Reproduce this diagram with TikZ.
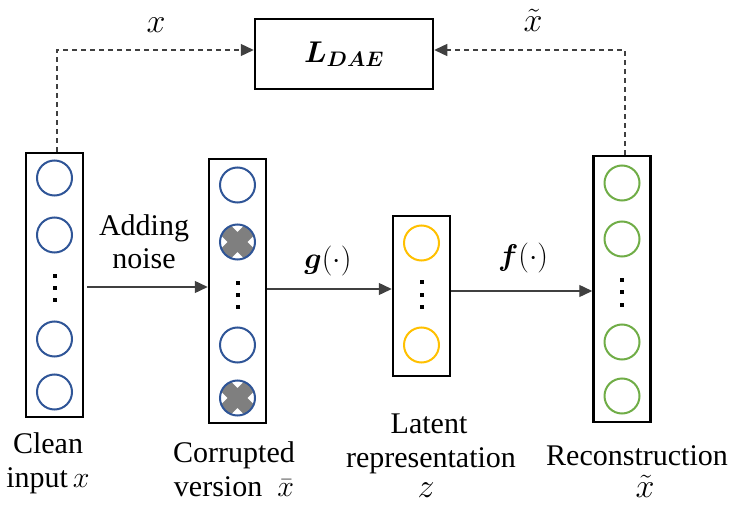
\RequirePackage{fix-cm}
\documentclass[tikz,border=0pt]{standalone}
\usepackage{amsmath}
\usepackage{fontspec}
\setmainfont{Liberation Serif}
\usetikzlibrary{arrows.meta,calc}
\definecolor{nblue}{HTML}{2F5597}
\definecolor{norange}{HTML}{FFC000}
\definecolor{ngreen}{HTML}{70AD47}
\definecolor{ngray}{HTML}{7F7F7F}
\definecolor{lgray}{HTML}{404040}
\begin{document}
\begin{tikzpicture}[x=1pt,y=-1pt,
  every node/.style={font=\fontsize{30}{35}\selectfont},
  box/.style={draw, line width=2.5pt, inner sep=0pt},
  col/.style={box, minimum width=57pt},
  neuron/.style={circle, draw=#1, line width=2pt, minimum size=35pt, inner sep=0pt},
  noisy/.style={neuron=nblue, path picture={
     \draw[ngray, line width=14pt]
       (path picture bounding box.north west) -- (path picture bounding box.south east)
       (path picture bounding box.south west) -- (path picture bounding box.north east);}},
  dotm/.style={fill=black, minimum size=4pt, inner sep=0pt},
  arr/.style={draw=lgray, line width=1.4pt, -{Triangle[length=13pt,width=12pt]}},
  fbline/.style={draw=lgray, line width=1.3pt, dash pattern=on 5pt off 4pt, -{Triangle[length=13pt,width=12pt]}},
  lbl/.style={anchor=base, inner sep=0pt},
  mlbl/.style={lbl, font=\fontsize{34}{38}\selectfont}
]
\useasboundingbox (0,0) rectangle (733,505);

% loss box
\node[box, minimum width=178pt, minimum height=70pt] (L) at (344,54) {$\boldsymbol{L}_{\boldsymbol{DAE}}$};

% columns
\node[col, minimum height=264pt] (c1) at (54.5,285) {};
\node[col, minimum height=264pt] (c2) at (237.5,291) {};
\node[col, minimum height=160pt] (c3) at (421.5,296) {};
\node[col, minimum height=266pt] (c4) at (622,289) {};

% column 1 neurons
\node[neuron=nblue] (a1) at (54.5,178) {};
\node[neuron=nblue] (a2) at (54.5,235) {};
\node[neuron=nblue] (a3) at (54.5,339) {};
\node[neuron=nblue] (a4) at (54.5,392) {};
\node[dotm] (ad1) at (54.5,276) {};
\node[dotm] (ad2) at (54.5,288) {};
\node[dotm] (ad3) at (54.5,300) {};

% column 2 neurons
\node[neuron=nblue] (b1) at (237.5,185) {};
\node[noisy] (b2) at (237.5,242) {};
\node[neuron=nblue] (b3) at (237.5,345) {};
\node[noisy] (b4) at (237.5,398) {};
\node[dotm] (bd1) at (237.5,283) {};
\node[dotm] (bd2) at (237.5,295) {};
\node[dotm] (bd3) at (237.5,307) {};

% column 3 neurons
\node[neuron=norange] (z1) at (421.5,243) {};
\node[neuron=norange] (z2) at (421.5,345) {};
\node[dotm] (zd1) at (421.5,282) {};
\node[dotm] (zd2) at (421.5,295) {};
\node[dotm] (zd3) at (421.5,307) {};

% column 4 neurons
\node[neuron=ngreen] (r1) at (622,183) {};
\node[neuron=ngreen] (r2) at (622,239) {};
\node[neuron=ngreen] (r3) at (622,342) {};
\node[neuron=ngreen] (r4) at (622,396) {};
\node[dotm] (rd1) at (622,280) {};
\node[dotm] (rd2) at (622,292) {};
\node[dotm] (rd3) at (622,305) {};

% dashed feedback to loss
\coordinate (d1) at (57,50);
\coordinate (d2) at (625,50);
\draw[fbline] (c1.north -| d1) -- (d1) -- (L.west |- d1);
\draw[fbline] (c4.north -| d2) -- (d2) -- (L.east |- d2);
\node[mlbl] (tx) at (156,33) {$x$};
\node[mlbl] (ttx) at (533,32) {$\tilde{x}$};

% forward arrows
\coordinate (y1) at (0,287);
\coordinate (y2) at (0,289);
\coordinate (y3) at (0,291);
\draw[arr] ($(c1.east |- y1)+(3,0)$) -- (c2.west |- y1);
\draw[arr] (c2.east |- y2) -- (c3.west |- y2);
\draw[arr] (c3.east |- y3) -- (c4.west |- y3);

\node[lbl] (n1) at (144,235) {Adding};
\node[lbl] (n2) at (144,268) {noise};
\node[lbl] (g) at (328,268) {$\boldsymbol{g}(\cdot)$};
\node[lbl] (f) at (523,265) {$\boldsymbol{f}(\cdot)$};

% bottom labels
\node[lbl] (t1a) at (48,453) {Clean};
\node[lbl] (t1b) at (48,487) {input\,$x$};
\node[lbl] (t2a) at (234,462) {Corrupted};
\node[lbl] (t2b) at (234,496) {version\ \ $\bar{x}$};
\node[lbl] (t3a) at (429,433) {Latent};
\node[lbl] (t3b) at (431,467) {representation};
\node[mlbl] (t3c) at (426,497) {$z$};
\node[lbl] (t4a) at (637,465) {Reconstruction};
\node[mlbl] (t4b) at (645,497) {$\tilde{x}$};
\end{tikzpicture}
\end{document}
